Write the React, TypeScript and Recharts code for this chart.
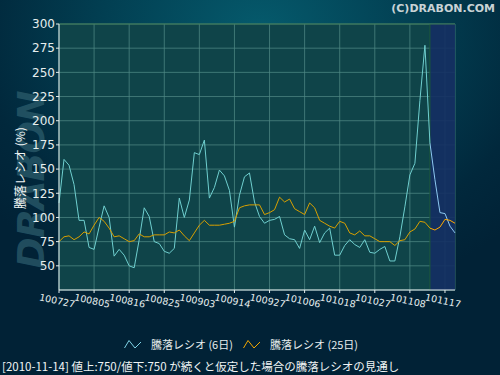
import React from 'react'
import {
    LineChart, Line, XAxis, YAxis, CartesianGrid, ReferenceArea, ReferenceLine
} from 'recharts'

// trading days, yymmdd
const dates = [
    '100727', '100728', '100729', '100730', '100802', '100803', '100804', '100805',
    '100806', '100809', '100810', '100811', '100812', '100813', '100816',
    '100817', '100818', '100819', '100820', '100823', '100824', '100825',
    '100826', '100827', '100830', '100831', '100901', '100902', '100903',
    '100906', '100907', '100908', '100909', '100910', '100913', '100914',
    '100915', '100916', '100917', '100921', '100922', '100924', '100927',
    '100928', '100929', '100930', '101001', '101004', '101005', '101006',
    '101007', '101008', '101012', '101013', '101014', '101015', '101018',
    '101019', '101020', '101021', '101022', '101025', '101026', '101027',
    '101028', '101029', '101101', '101102', '101104', '101105', '101108',
    '101109', '101110', '101111', '101112', '101115', '101116', '101117',
    '101118', '101119',
]

const tickDates = [
    '100727', '100805', '100816', '100825', '100903', '100914',
    '100927', '101006', '101018', '101027', '101108', '101117',
]

// 騰落レシオ (6日)
const ratio6 = [
    115, 160, 154, 134, 97, 97, 69, 67, 90, 112,
    100, 60, 67, 61, 50, 48, 77, 110, 101, 75,
    73, 65, 63, 68, 120, 100, 118, 167, 165, 180,
    120, 131, 149, 143, 128, 90, 123, 142, 146, 116,
    101, 94, 97, 98, 101, 82, 78, 77, 68, 87,
    77, 91, 74, 84, 89, 61, 61, 71, 77, 72,
    69, 77, 64, 63, 67, 70, 55, 55, 80, 111,
    144, 156, 221, 278, 177, 139, 105, 104, 91, 84,
]

// 騰落レシオ (25日)
const ratio25 = [
    75, 80, 81, 77, 80, 85, 83, 92, 100, 96,
    89, 80, 81, 78, 75, 76, 83, 80, 80, 82,
    82, 82, 85, 84, 87, 81, 76, 84, 92, 97,
    92, 92, 92, 93, 94, 96, 110, 112, 113, 113,
    113, 103, 105, 108, 121, 116, 119, 109, 106, 103,
    115, 110, 97, 94, 91, 89, 96, 94, 84, 82,
    86, 81, 81, 78, 75, 75, 75, 71, 76, 77,
    85, 88, 96, 95, 89, 87, 90, 98, 97, 94,
]

const yTicks = [50, 75, 100, 125, 150, 175, 200, 225, 250, 275, 300]

const LAST_ACTUAL = '101112'
const lastIdx = dates.indexOf(LAST_ACTUAL)

const data = dates.map((d, i) => ({
    date: d,
    r6: i <= lastIdx ? ratio6[i] : null,
    r6p: i >= lastIdx ? ratio6[i] : null,
    r25: i <= lastIdx ? ratio25[i] : null,
    r25p: i >= lastIdx ? ratio25[i] : null,
}))

const FONT = "'DejaVu Sans', 'Noto Sans CJK JP', sans-serif"
const JP = "'Noto Sans CJK JP', 'DejaVu Sans', sans-serif"

function DateTick({ x, y, payload }: any) {
    return (
        <g transform={`translate(${x - 2},${y + 6}) rotate(12)`}>
            <text textAnchor="middle" dy={3} fontSize={9.5} fill="#e6eeee" fontFamily={FONT}>
                {payload.value}
            </text>
        </g>
    )
}

function LegendBox() {
    const item = (color: string, label: string) => (
        <div style={{ display: 'flex', alignItems: 'center', marginRight: 10 }}>
            <svg width={18} height={10} style={{ marginRight: 9 }}>
                <path d="M0.5,9 L5,1.5 L11,9 L17,3" stroke={color} fill="none" strokeWidth={1} />
            </svg>
            <span style={{ fontSize: 11, color: '#e8eeee', fontFamily: JP }}>{label}</span>
        </div>
    )
    return (
        <div style={{ display: 'flex', justifyContent: 'center', width: 500, marginLeft: -4 }}>
            {item('#7fd3e6', '騰落レシオ (6日)')}
            {item('#f5a800', '騰落レシオ (25日)')}
        </div>
    )
}

export default function App() {
    return (
        <div
            style={{
                position: 'absolute', left: 0, top: 0, width: 500, height: 375, overflow: 'hidden',
                background: 'radial-gradient(ellipse 70% 75% at 52% 8%, #055a6c 0%, #023f52 45%, #01283c 80%, #012236 100%)',
            }}
        >
            {/* watermark */}
            <div
                style={{
                    position: 'absolute', left: 31 - 90, top: 180 - 22, width: 180, height: 44,
                    transform: 'rotate(-90deg)', transformOrigin: '50% 50%', textAlign: 'center',
                    fontFamily: "'DejaVu Sans', sans-serif", fontWeight: 'bold', fontStyle: 'italic',
                    fontSize: 38, lineHeight: '44px', color: '#2e5f6e', opacity: 0.7, whiteSpace: 'nowrap',
                    letterSpacing: -1,
                }}
            >
                DRABON
            </div>
            <div
                style={{
                    position: 'absolute', right: 5, top: 2, fontFamily: FONT, fontWeight: 'bold',
                    fontSize: 11, color: '#c9d3d6',
                }}
            >
                (C)DRABON.COM
            </div>
            <div
                style={{
                    position: 'absolute', left: 20 - 50, top: 168 - 8, width: 100, height: 16,
                    transform: 'rotate(-90deg)', textAlign: 'center', lineHeight: '16px',
                    fontFamily: JP, fontSize: 12, color: '#f0f4f4', whiteSpace: 'nowrap',
                }}
            >
                騰落レシオ (%)
            </div>
            <div style={{ position: 'absolute', left: 0, top: 0 }}>
                <LineChart width={500} height={375} data={data} margin={{ top: 24, right: 45, bottom: 55, left: 0 }}>
                    <CartesianGrid fill="#0f4449" stroke="#4f8884" strokeOpacity={0.75} />
                    <ReferenceArea x1={LAST_ACTUAL} x2="101119" fill="#142f63" fillOpacity={0.9} stroke="none" ifOverflow="hidden" />
                    <ReferenceLine x={LAST_ACTUAL} stroke="#1c5a3a" />
                    <ReferenceLine y={300} stroke="#3f7a55" />
                    <XAxis
                        dataKey="date"
                        ticks={tickDates}
                        interval={0}
                        tick={<DateTick />}
                        tickSize={3}
                        height={30}
                        stroke="#e6eeee"
                    />
                    <YAxis
                        width={59}
                        domain={[25, 300]}
                        ticks={yTicks}
                        interval={0}
                        tickSize={3}
                        tickMargin={1}
                        stroke="#e6eeee"
                        tick={{ fontSize: 12, fill: '#e6eeee', fontFamily: FONT }}
                    />
                    <Line dataKey="r6" stroke="#6fcfcf" strokeWidth={1} dot={false} isAnimationActive={false} />
                    <Line dataKey="r25" stroke="#d9a000" strokeWidth={1} dot={false} isAnimationActive={false} />
                    <Line dataKey="r6p" stroke="#8cc8f0" strokeWidth={1} dot={false} isAnimationActive={false} />
                    <Line dataKey="r25p" stroke="#ffaa00" strokeWidth={1} dot={false} isAnimationActive={false} />
                </LineChart>
            </div>
            <div style={{ position: 'absolute', left: 0, top: 336 }}>
                <LegendBox />
            </div>
            <div
                style={{
                    position: 'absolute', left: 2, top: 358, fontFamily: JP, fontSize: 11.5,
                    color: '#f0f4f4', whiteSpace: 'nowrap',
                }}
            >
                [2010-11-14] 値上:750/値下:750 が続くと仮定した場合の騰落レシオの見通し
            </div>
        </div>
    )
}
